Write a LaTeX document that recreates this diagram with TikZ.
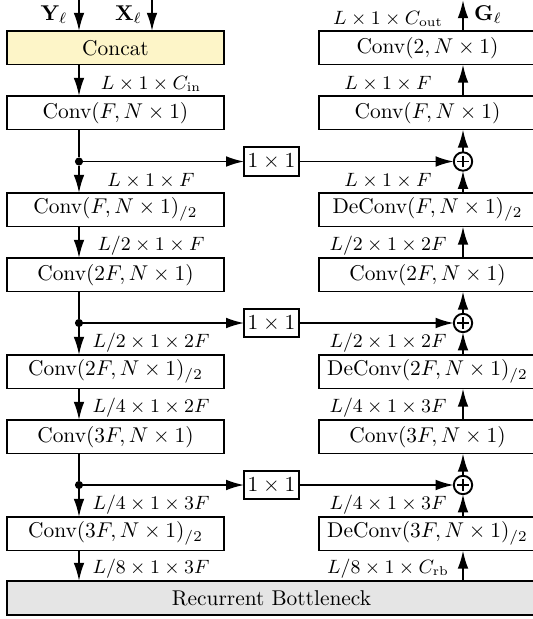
\documentclass[tikz,border=0pt]{standalone}
\usetikzlibrary{arrows.meta}
\definecolor{concatfill}{RGB}{253,245,200}
\definecolor{rbfill}{RGB}{229,229,229}
\begin{document}
\begin{tikzpicture}[x=0.4673pt,y=-0.4673pt,
  every node/.style={inner sep=0pt, outer sep=0pt},
  blk/.style={draw, line width=0.9pt, rectangle, minimum width=101.4pt, minimum height=15.65pt, font=\normalsize},
  sq/.style={draw, line width=0.8pt, rectangle, minimum width=25.5pt, minimum height=13.4pt},
  dotn/.style={circle, fill, minimum size=3.8pt},
  sumn/.style={circle, draw, line width=0.9pt, minimum size=8.6pt},
  lab/.style={font=\small},
  arr/.style={line width=0.9pt, -{Latex[length=8.5pt,width=5pt]}},
  ln/.style={line width=0.9pt}]
\useasboundingbox (0,0) rectangle (533,619);
% left column
\node[blk, fill=concatfill] (L1) at (115.5,47.75) {Concat};
\node[blk] (L2) at (115.5,112.75) {Conv$(F, N\times 1)$};
\node[blk] (L3) at (115.5,209.75) {Conv$(F, N\times 1)_{/2}$};
\node[blk] (L4) at (115.5,274.75) {Conv$(2F, N\times 1)$};
\node[blk] (L5) at (115.5,371.75) {Conv$(2F, N\times 1)_{/2}$};
\node[blk] (L6) at (115.5,436.75) {Conv$(3F, N\times 1)$};
\node[blk] (L7) at (115.5,533.75) {Conv$(3F, N\times 1)_{/2}$};
% right column
\node[blk] (R1) at (427.5,47.75) {Conv$(2, N\times 1)$};
\node[blk] (R2) at (427.5,112.75) {Conv$(F, N\times 1)$};
\node[blk] (R3) at (427.5,209.75) {DeConv$(F, N\times 1)_{/2}$};
\node[blk] (R4) at (427.5,274.75) {Conv$(2F, N\times 1)$};
\node[blk] (R5) at (427.5,371.75) {DeConv$(2F, N\times 1)_{/2}$};
\node[blk] (R6) at (427.5,436.75) {Conv$(3F, N\times 1)$};
\node[blk] (R7) at (427.5,533.75) {DeConv$(3F, N\times 1)_{/2}$};
% bottleneck
\node[blk, fill=rbfill, minimum width=247.2pt, minimum height=15.9pt] (BN) at (271.5,598) {Recurrent Bottleneck};
% skip paths
\foreach \i/\yy in {1/161.5, 2/323, 3/485} {
  \node[dotn] (d\i) at (79,\yy) {};
  \node[sq] (s\i) at (271.5,\yy) {$1\times 1$};
  \node[sumn] (p\i) at (463,\yy) {};
  \draw[ln] ([xshift=-2.7pt]p\i.center) -- ([xshift=2.7pt]p\i.center);
  \draw[ln] ([yshift=-2.7pt]p\i.center) -- ([yshift=2.7pt]p\i.center);
  \draw[arr] (d\i) -- (s\i);
  \draw[arr] (s\i) -- (p\i);
}
% inputs / output
\coordinate (yin) at (79,0);
\coordinate (xin) at (152,0);
\coordinate (gout) at (463,0);
\node (ylab) at (54,15) {$\mathbf{Y}_\ell$};
\node (xlab) at (128.5,15) {$\mathbf{X}_\ell$};
\node (glab) at (488,15) {$\mathbf{G}_\ell$};
\draw[arr] (yin) -- (L1.north -| yin);
\draw[arr] (xin) -- (L1.north -| xin);
\draw[arr] (R1.north -| gout) -- (gout);
% left down-path
\draw[arr] (L1.south -| yin) -- (L2.north -| yin);
\draw[ln] (L2.south -| d1) -- (d1);
\draw[arr] (d1) -- (L3.north -| d1);
\draw[arr] (L3.south -| yin) -- (L4.north -| yin);
\draw[ln] (L4.south -| d2) -- (d2);
\draw[arr] (d2) -- (L5.north -| d2);
\draw[arr] (L5.south -| yin) -- (L6.north -| yin);
\draw[ln] (L6.south -| d3) -- (d3);
\draw[arr] (d3) -- (L7.north -| d3);
\draw[arr] (L7.south -| yin) -- (BN.north -| yin);
% right up-path
\draw[arr] (BN.north -| gout) -- (R7.south -| gout);
\draw[arr] (R7.north -| p3) -- (p3);
\draw[arr] (p3) -- (R6.south -| p3);
\draw[arr] (R6.north -| gout) -- (R5.south -| gout);
\draw[arr] (R5.north -| p2) -- (p2);
\draw[arr] (p2) -- (R4.south -| p2);
\draw[arr] (R4.north -| gout) -- (R3.south -| gout);
\draw[arr] (R3.north -| p1) -- (p1);
\draw[arr] (p1) -- (R2.south -| p1);
\draw[arr] (R2.north -| gout) -- (R1.south -| gout);
% left labels
\node[lab] (la1) at (151,83.5) {$L\times 1\times C_{\mathrm{in}}$};
\node[lab] (la2) at (151,180.5) {$L\times 1\times F$};
\node[lab] (la3) at (151,245.5) {$L/2\times 1\times F$};
\node[lab] (la4) at (151,342.5) {$L/2\times 1\times 2F$};
\node[lab] (la5) at (151,407.5) {$L/4\times 1\times 2F$};
\node[lab] (la6) at (151,504.5) {$L/4\times 1\times 3F$};
\node[lab] (la7) at (151,568.5) {$L/8\times 1\times 3F$};
% right labels
\node[lab] (ra0) at (388,18.5) {$L\times 1\times C_{\mathrm{out}}$};
\node[lab] (ra1) at (388,83.5) {$L\times 1\times F$};
\node[lab] (ra2) at (388,180.5) {$L\times 1\times F$};
\node[lab] (ra3) at (388,245.5) {$L/2\times 1\times 2F$};
\node[lab] (ra4) at (388,342.5) {$L/2\times 1\times 2F$};
\node[lab] (ra5) at (388,407.5) {$L/4\times 1\times 3F$};
\node[lab] (ra6) at (388,504.5) {$L/4\times 1\times 3F$};
\node[lab] (ra7) at (388,568.5) {$L/8\times 1\times C_{\mathrm{rb}}$};
\end{tikzpicture}
\end{document}
